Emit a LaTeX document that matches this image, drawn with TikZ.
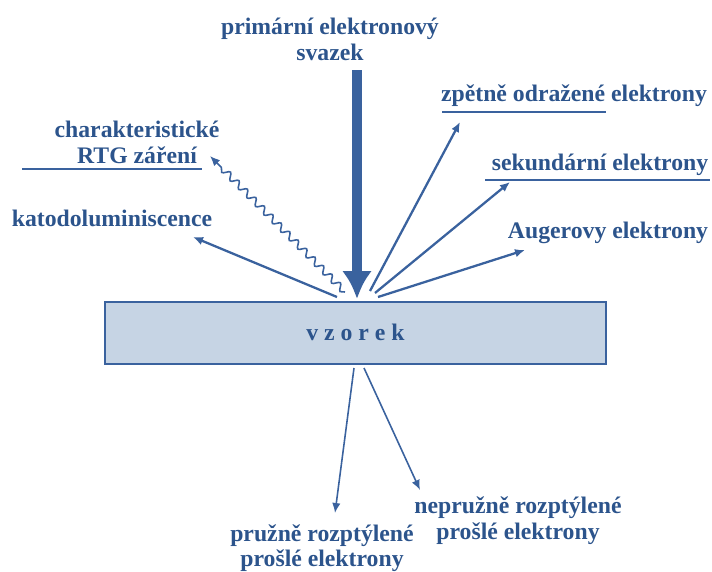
\documentclass[tikz,border=0pt]{standalone}
\usepackage{fontspec}
\setmainfont{Liberation Serif}
\usetikzlibrary{arrows.meta,decorations.pathmorphing}
\definecolor{txtblue}{RGB}{44,84,140}
\definecolor{lineblue}{RGB}{58,98,158}
\definecolor{boxfill}{RGB}{198,212,228}
\tikzset{
  lbl/.style={text=txtblue, font=\fontsize{13.5}{14.5}\selectfont\bfseries, align=center, inner sep=0pt},
  ray/.style={draw=lineblue, line width=1.3pt},
  thinray/.style={draw=lineblue, line width=0.9pt},
  tip/.style={-{Latex[length=0.2cm, width=0.17cm]}}
}
\begin{document}
\begin{tikzpicture}
        \useasboundingbox (0,0) rectangle (14.24,11.42);

        \node[lbl] (beam) at (6.60,10.63) {primární elektronový\\svazek};
        \node[draw=lineblue, line width=1.2pt, fill=boxfill, minimum width=10.02cm, minimum height=1.24cm] (sample) at (7.11,4.76) {};
        \node[lbl] (vz) at (7.11,4.78) {v\kern.25em z\kern.25em o\kern.25em r\kern.25em e\kern.25em k};

        \node[lbl] (rtg) at (2.74,8.57) {charakteristické\\RTG záření};
        \node[lbl] (kato) at (2.24,7.06) {katodoluminiscence};
        \node[lbl] (bse) at (11.48,9.50) {zpětně odražené elektrony};
        \node[lbl] (se) at (12.00,8.12) {sekundární elektrony};
        \node[lbl] (auger) at (12.16,6.76) {Augerovy elektrony};
        \node[lbl] (elast) at (6.44,0.46) {pružně rozptýlené\\prošlé elektrony};
        \node[lbl] (inel) at (10.36,1.01) {nepružně rozptýlené\\prošlé elektrony};

        % start and end points of the rays
        \coordinate (b1) at (7.14,10.02);
        \coordinate (b2) at (7.14,5.44);
        \coordinate (s1) at (6.90,5.58);
        \coordinate (t1) at (4.20,8.30);
        \coordinate (s2) at (6.74,5.48);
        \coordinate (t2) at (3.86,6.68);
        \coordinate (s3) at (7.40,5.60);
        \coordinate (t3) at (9.20,8.98);
        \coordinate (s4) at (7.50,5.56);
        \coordinate (t4) at (10.20,7.78);
        \coordinate (s5) at (7.56,5.48);
        \coordinate (t5) at (10.50,6.42);
        \coordinate (s6) at (7.08,4.06);
        \coordinate (t6) at (6.70,1.16);
        \coordinate (s7) at (7.28,4.06);
        \coordinate (t7) at (8.40,1.62);

        \draw[draw=lineblue, line width=0.2cm, -{Latex[length=0.56cm, width=0.6cm]}] (b1) -- (b2);
        \draw[thinray, tip, decorate, decoration={snake, amplitude=0.065cm, segment length=0.24cm, post length=0.3cm}] (s1) -- (t1);
        \draw[ray, tip] (s2) -- (t2);
        \draw[ray, tip] (s3) -- (t3);
        \draw[ray, tip] (s4) -- (t4);
        \draw[ray, tip] (s5) -- (t5);
        \draw[thinray, tip] (s6) -- (t6);
        \draw[thinray, tip] (s7) -- (t7);

        % underlines
        \draw[ray] (0.44,8.04) -- (4.04,8.04);
        \draw[ray] (8.84,9.18) -- (12.12,9.18);
        \draw[ray] (9.70,7.82) -- (14.20,7.82);
      \end{tikzpicture}
\end{document}
